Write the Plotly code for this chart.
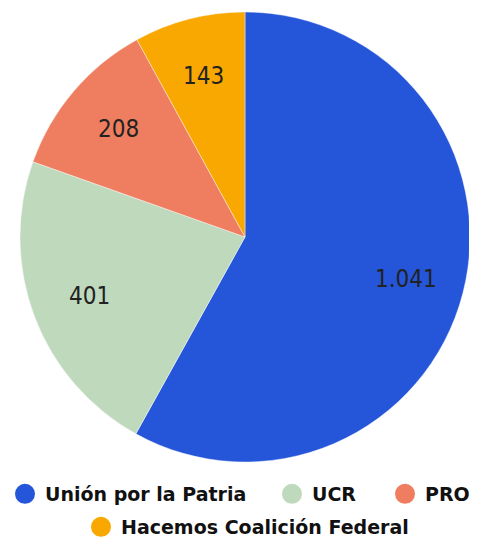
import math
import plotly.graph_objects as go

categories = ["Unión por la Patria", "UCR", "PRO", "Hacemos Coalición Federal"]
values = [1041, 401, 208, 143]
value_labels = ["1.041", "401", "208", "143"]
colors = ["#2556D9", "#BFD9BD", "#EE7E5F", "#F8A800"]

W, H = 477, 537
OFF = 8  # the page body adds an 8px offset; compensate in the layout

fig = go.Figure()
fig.add_trace(go.Pie(
    labels=categories,
    values=values,
    sort=False,
    direction="clockwise",
    rotation=0,
    marker=dict(colors=colors, line=dict(color="rgba(255,255,255,0.6)", width=0.7)),
    textinfo="none",
    showlegend=False,
    hoverinfo="label+value",
    domain=dict(x=[0, 1], y=[0, 1]),
))

legend_ids = ["legend", "legend2", "legend3", "legend4"]
for name, col, lid in zip(categories, colors, legend_ids):
    fig.add_trace(go.Scatter(
        x=[None], y=[None], mode="markers", name=name, legend=lid,
        marker=dict(color=col, size=16, symbol="circle", line=dict(color=col, width=4)),
        showlegend=True,
    ))

# value labels placed along each slice's mid-angle
total = sum(values)
cum = 0
annotations = []
for v, lab in zip(values, value_labels):
    mid = (cum + v / 2) / total * 2 * math.pi
    cum += v
    r = 0.5 * 0.74
    annotations.append(dict(
        x=0.5 + r * math.sin(mid), y=0.5 + r * math.cos(mid),
        xref="paper", yref="paper", text=lab, showarrow=False,
        font=dict(family="DejaVu Sans Condensed", size=24, color="#222222"),
        xanchor="center", yanchor="middle",
    ))

leg_font = dict(family="DejaVu Sans", size=19, color="#111111", weight="bold")
# legend entry positions: (legend left px, row centre px) in figure pixels
leg_pos = [(5, 486), (272, 486), (385, 486), (81, 519)]
legends = {}
for lid, (px, py) in zip(legend_ids, leg_pos):
    legends[lid] = dict(
        orientation="h", xref="container", yref="container",
        x=px / W, xanchor="left", y=1 - py / H, yanchor="middle",
        font=leg_font, itemsizing="trace", bgcolor="rgba(0,0,0,0)",
        indentation=-8,
    )

fig.update_layout(
    width=W, height=H,
    margin=dict(l=20 - OFF, r=7 + OFF, t=12 - OFF, b=75 + OFF),
    paper_bgcolor="white", plot_bgcolor="white",
    xaxis=dict(visible=False), yaxis=dict(visible=False),
    annotations=annotations,
    **legends,
)

fig.write_html("out.html")
